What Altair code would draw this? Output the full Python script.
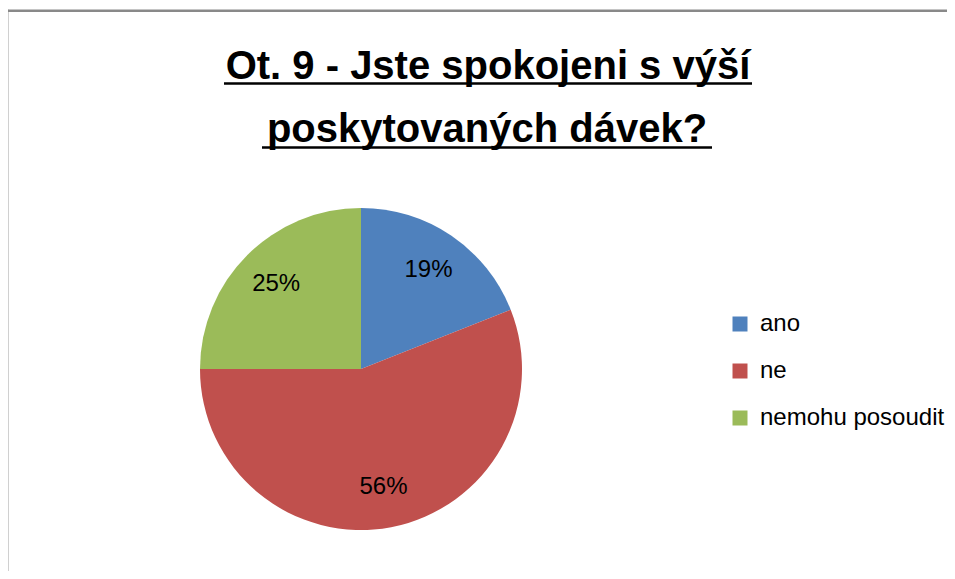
import altair as alt
import pandas as pd

# ---- data ----
categories = ["ano", "ne", "nemohu posoudit"]
values = [19, 56, 25]
labels = ["19%", "56%", "25%"]
colors = ["#4F81BD", "#C0504D", "#9BBB59"]
title_lines = ["Ot. 9 - Jste spokojeni s výší", "poskytovaných dávek?"]

df = pd.DataFrame({
    "kat": categories,
    "hodnota": values,
    "popisek": labels,
    "poradi": list(range(len(categories))),
})

FONT = "Liberation Sans"
W, H = 936, 560
OX, OY = 11, 11  # page position of the view origin (8px margin + 3px padding)


def px(x):
    return x - OX


def py(y):
    return y - OY


one = pd.DataFrame({"k": [0]})

theta = alt.Theta("hodnota:Q", stack=True)
order = alt.Order("poradi:Q")
cx, cy = alt.value(px(361)), alt.value(py(369))

pie = alt.Chart(df).mark_arc(radius=161).encode(
    theta=theta,
    order=order,
    x=cx,
    y=cy,
    color=alt.Color(
        "kat:N",
        scale=alt.Scale(domain=categories, range=colors),
        legend=alt.Legend(
            title=None,
            orient="none",
            legendX=px(728),
            legendY=py(312),
            symbolType="square",
            symbolSize=225,
            symbolStrokeWidth=0,
            symbolOpacity=1,
            labelFont=FONT,
            labelFontSize=24,
            labelColor="#000000",
            labelOffset=8,
            labelLimit=0,
            rowPadding=23,
            padding=0,
        ),
    ),
)

pie_text = alt.Chart(df).mark_text(
    radius=120, font=FONT, fontSize=24, color="#000000", align="center", baseline="middle"
).encode(theta=theta, order=order, x=cx, y=cy, text="popisek:N")

title1 = alt.Chart(pd.DataFrame({"t": [title_lines[0]]})).mark_text(
    font=FONT, fontSize=40, fontWeight="bold", color="#000000", align="center", baseline="alphabetic"
).encode(text="t:N", x=alt.value(px(488)), y=alt.value(py(79)))

title2 = alt.Chart(pd.DataFrame({"t": [title_lines[1]]})).mark_text(
    font=FONT, fontSize=40, fontWeight="bold", color="#000000", align="center", baseline="alphabetic"
).encode(text="t:N", x=alt.value(px(487)), y=alt.value(py(142)))

ul1 = alt.Chart(one).mark_rule(color="#000000", strokeWidth=2.5).encode(
    x=alt.value(px(224)), x2=alt.value(px(752)), y=alt.value(py(83.5))
)
ul2 = alt.Chart(one).mark_rule(color="#000000", strokeWidth=2.5).encode(
    x=alt.value(px(262)), x2=alt.value(px(712)), y=alt.value(py(147.5))
)

border_left = alt.Chart(one).mark_rule(color="#898989", strokeWidth=2.4).encode(
    x=alt.value(px(7.2)), y=alt.value(py(9.6)), y2=alt.value(H)
)
border_top = alt.Chart(one).mark_rule(color="#898989", strokeWidth=2.4).encode(
    y=alt.value(py(10.8)), x=alt.value(px(6)), x2=alt.value(W)
)

chart = alt.layer(
    border_left, border_top, pie, pie_text, title1, title2, ul1, ul2
).properties(
    width=W,
    height=H,
    autosize=alt.AutoSizeParams(type="none"),
    padding={"left": 3, "top": 3, "right": 0, "bottom": 0},
    background="#ffffff",
).configure_view(stroke=None)

chart.save("out.html", embed_options={"renderer": "svg", "actions": False})
